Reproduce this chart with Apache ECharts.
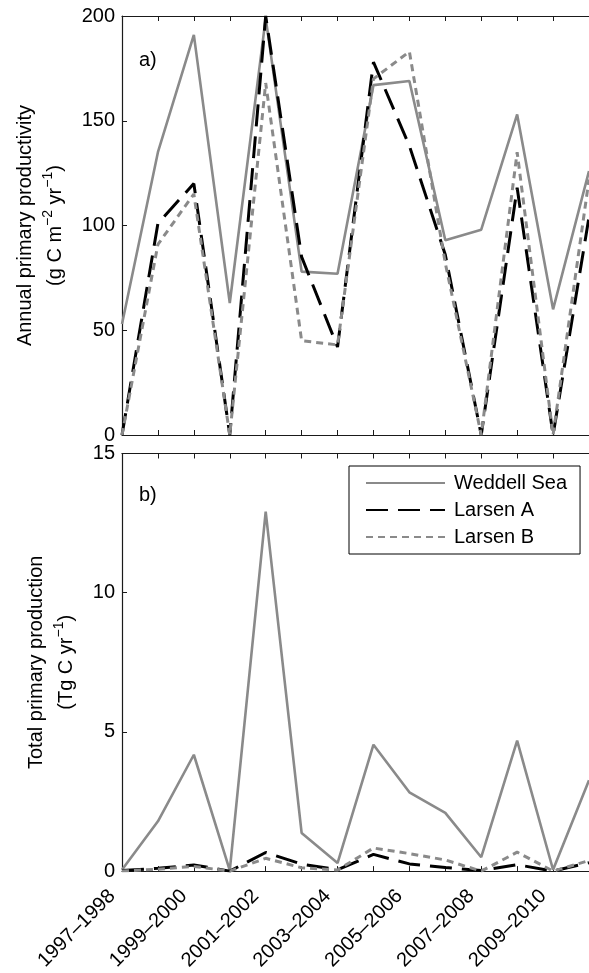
<!DOCTYPE html>
<html>
<head>
<meta charset="utf-8">
<script src="https://cdn.jsdelivr.net/npm/echarts@6/dist/echarts.min.js"></script>
<style>
html,body{margin:0;padding:0;background:#fff;overflow:hidden;}
#chart{width:589px;height:973px;}
</style>
</head>
<body>
<div id="chart"></div>
<script>
var categories = ['1997–1998','1998–1999','1999–2000','2000–2001','2001–2002','2002–2003','2003–2004','2004–2005','2005–2006','2006–2007','2007–2008','2008–2009','2009–2010','2010–2011'];
var seriesNames = ['Weddell Sea','Larsen A','Larsen B'];
// a) Annual primary productivity (g C m-2 yr-1)
var weddellAnnual = [53, 135, 191, 63, 199, 78, 77, 167, 169, 93, 98, 153, 60, 126];
var larsenAAnnual = [0, 101, 120, 0, 200, 85, 42, 178, 138, 86, 0, 118, 0, 104];
var larsenBAnnual = [0, 91, 115, 0, 168, 45, 43, 170, 183, 82, 0, 135, 0, 122];
// b) Total primary production (Tg C yr-1)
var weddellTotal = [0.05, 1.79, 4.18, 0.03, 12.91, 1.37, 0.29, 4.54, 2.83, 2.09, 0.5, 4.69, 0.05, 3.26];
var larsenATotal = [0.02, 0.1, 0.22, 0, 0.67, 0.25, 0.05, 0.6, 0.26, 0.13, 0.02, 0.23, 0, 0.3];
var larsenBTotal = [0, 0.07, 0.17, 0, 0.46, 0.12, 0.04, 0.83, 0.63, 0.4, 0, 0.68, 0, 0.38];
var yTicksTop = [0, 200, 50];
var yTicksBottom = [0, 15, 5];

var FONT = 'Liberation Sans, Arial, Helvetica, sans-serif';
var AXC = '#1a1a1a';
var GRAY = '#8a8a8a';

var styles = [
  {color: GRAY, width: 2.6, type: 'solid'},
  {color: '#000000', width: 3, type: [22, 10]},
  {color: GRAY, width: 3, type: [7, 5]}
];

function xAxis(gi, pos, showLabels) {
  return {
    type: 'category', gridIndex: gi, position: pos, data: categories, boundaryGap: false,
    axisLine: {show: true, onZero: false, lineStyle: {color: AXC, width: 1.2}},
    axisTick: {show: true, inside: true, length: 5, interval: 0, lineStyle: {color: AXC}},
    axisLabel: {show: showLabels, interval: 1, rotate: 45, margin: 12, color: '#000',
      fontFamily: FONT, fontSize: 20, padding: [0, 14, 0, 0]},
    splitLine: {show: false}
  };
}
function yAxis(gi, t, name, gap) {
  return {
    type: 'value', gridIndex: gi, min: t[0], max: t[1], interval: t[2],
    axisLine: {show: true, lineStyle: {color: AXC, width: 1.2}},
    axisTick: {show: true, inside: true, length: 5, lineStyle: {color: AXC}},
    axisLabel: {color: '#000', fontFamily: FONT, fontSize: 20, margin: 7},
    splitLine: {show: false},
    name: name, nameLocation: 'middle', nameRotate: 90, nameGap: gap,
    nameTextStyle: {
      color: '#000', fontFamily: FONT, fontSize: 20, lineHeight: 30, align: 'center',
      rich: {
        a: {fontFamily: FONT, fontSize: 20, lineHeight: 30, color: '#000'},
        s: {fontFamily: FONT, fontSize: 14, verticalAlign: 'top', color: '#000'}
      }
    }
  };
}

function mk(name, data, i, xi, yi) {
  return {
    name: name, type: 'line', data: data, xAxisIndex: xi, yAxisIndex: yi,
    symbol: 'none', showSymbol: false, silent: true, animation: false,
    lineStyle: styles[i], itemStyle: {color: styles[i].color}
  };
}

var chart = echarts.init(document.getElementById('chart'), null, {renderer: 'canvas'});
chart.setOption({
  animation: false,
  backgroundColor: '#fff',
  grid: [
    {left: 122, right: -6, top: 16, height: 419},
    {left: 122, right: -6, top: 453.5, height: 418}
  ],
  xAxis: [xAxis(0, 'bottom', false), xAxis(1, 'bottom', true), xAxis(0, 'top', false), xAxis(1, 'top', false)],
  yAxis: [
    yAxis(0, yTicksTop, '{a|Annual primary productivity}\n{a|(g C m}{s|−2}{a| yr}{s|−1}{a|)}', 49),
    yAxis(1, yTicksBottom, '{a|Total primary production}\n{a|(Tg C yr}{s|−1}{a|)}', 38)
  ],
  legend: {
    data: seriesNames, orient: 'vertical', left: 349, top: 466,
    itemWidth: 79, itemHeight: 14, itemGap: 7,
    padding: [7, 13, 7, 16],
    borderColor: '#000', borderWidth: 1, backgroundColor: '#fff', borderRadius: 0,
    itemStyle: {color: 'transparent', borderColor: 'transparent', borderWidth: 0, opacity: 0},
    textStyle: {fontFamily: FONT, fontSize: 20, color: '#000', padding: [0, 0, 0, 4]},
    selectedMode: false
  },
  graphic: [
    {type: 'text', left: 139, top: 50, style: {text: 'a)', font: '20px ' + FONT, fill: '#000'}},
    {type: 'text', left: 139, top: 485, style: {text: 'b)', font: '20px ' + FONT, fill: '#000'}}
  ],
  series: [
    mk(seriesNames[0], weddellAnnual, 0, 0, 0),
    mk(seriesNames[1], larsenAAnnual, 1, 0, 0),
    mk(seriesNames[2], larsenBAnnual, 2, 0, 0),
    mk(seriesNames[0], weddellTotal, 0, 1, 1),
    mk(seriesNames[1], larsenATotal, 1, 1, 1),
    mk(seriesNames[2], larsenBTotal, 2, 1, 1)
  ]
});
</script>
</body>
</html>
